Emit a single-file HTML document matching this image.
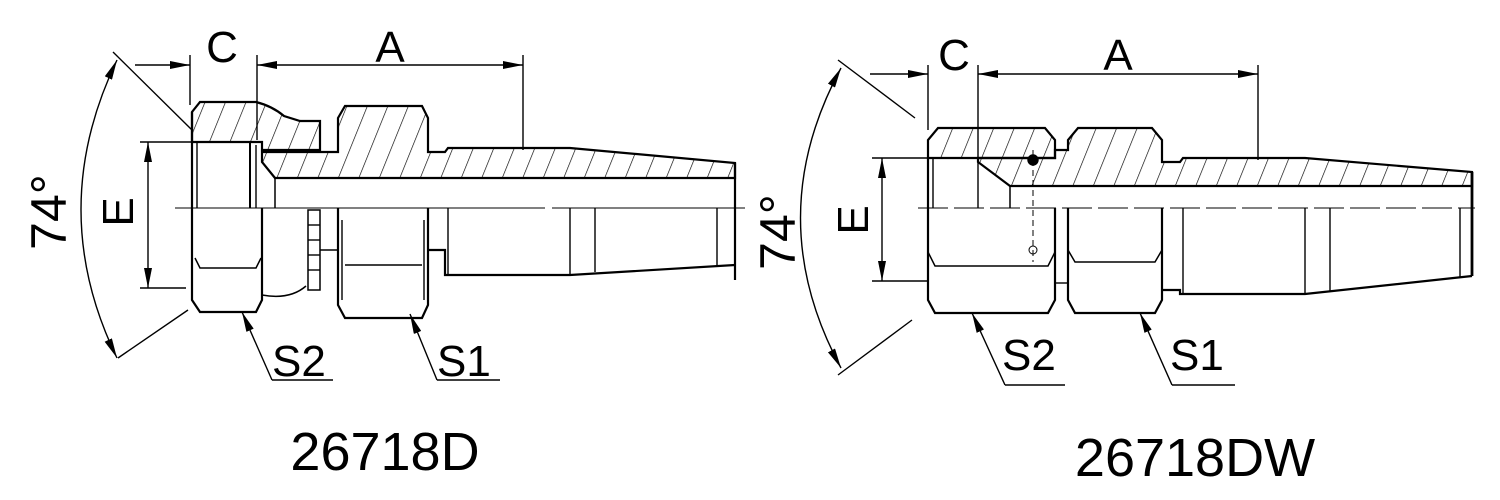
<!DOCTYPE html>
<html><head><meta charset="utf-8"><style>
html,body{margin:0;padding:0;background:#fff;}
svg{display:block;}
text{font-family:"Liberation Sans",sans-serif;fill:#000;}
</style></head><body>
<svg width="1500" height="500" viewBox="0 0 1500 500" xmlns="http://www.w3.org/2000/svg">
<defs>
<pattern id="h" width="19" height="19" patternUnits="userSpaceOnUse" patternTransform="rotate(22)">
<line x1="0" y1="0" x2="0" y2="19" stroke="#000" stroke-width="1.3"/>
</pattern>
<marker id="ar" viewBox="0 0 20 8" refX="20" refY="4" markerWidth="20" markerHeight="8" markerUnits="userSpaceOnUse" orient="auto-start-reverse">
<path d="M0,0 L20,4 L0,8 Z" fill="#000"/>
</marker>
</defs>
<g fill="none" stroke="#000" stroke-width="1.4">
<!-- ================= LEFT ================= -->
<line x1="175" y1="208" x2="545" y2="208" stroke-width="1"/>
<line x1="552" y1="208" x2="745" y2="208" stroke-width="1"/>
<line x1="190" y1="55" x2="190" y2="105"/>
<line x1="257" y1="55" x2="257" y2="140"/>
<line x1="523" y1="55" x2="523" y2="150"/>
<line x1="135" y1="65" x2="190" y2="65" marker-end="url(#ar)"/>
<line x1="257" y1="65" x2="523" y2="65" marker-start="url(#ar)" marker-end="url(#ar)"/>
<line x1="113" y1="52" x2="192" y2="130"/>
<line x1="118" y1="358" x2="188" y2="310"/>
<path d="M117,60 Q45,210 117,358" marker-start="url(#ar)" marker-end="url(#ar)"/>
<line x1="140" y1="142" x2="192" y2="142"/>
<line x1="140" y1="288" x2="186" y2="288"/>
<line x1="148" y1="142" x2="148" y2="288" marker-start="url(#ar)" marker-end="url(#ar)"/>
<path d="M192,142 V112 L200,102 H256 Q272,106 284,116 L300,121 H320 V150 H262 V142 Z" fill="url(#h)" stroke-width="2.2"/>
<path d="M192,208 V112" stroke-width="2.2"/>
<line x1="196" y1="142" x2="258" y2="142"/>
<line x1="197" y1="142" x2="197" y2="208"/>
<line x1="250" y1="142" x2="250" y2="208" stroke-width="2"/>
<line x1="256" y1="145" x2="256" y2="208"/>
<path d="M275,178 L262,162 V152 H338 V118 L345,106 H422 L428,118 V152 H445 L448,148 H570 L735,163 V178 Z" fill="url(#h)" stroke-width="2.2"/>
<line x1="275" y1="178" x2="275" y2="208" stroke-width="1.5"/>
<line x1="735" y1="163" x2="735" y2="280" stroke-width="2.2"/>
<path d="M192,208 V300 L200,312 H256 L262,300 V208" stroke-width="2.2"/>
<path d="M195,258 L200,268 H256 L261,258" stroke-width="1.5"/>
<path d="M262,295 Q290,300 306,286" stroke-width="1.5"/>
<rect x="308" y="210" width="12" height="80" stroke-width="1.5"/>
<line x1="308" y1="225" x2="320" y2="225"/><line x1="308" y1="240" x2="320" y2="240"/>
<line x1="308" y1="255" x2="320" y2="255"/><line x1="308" y1="270" x2="320" y2="270"/>
<line x1="320" y1="250" x2="338" y2="250"/>
<path d="M338,208 V305 L345,318 H422 L428,305 V208" stroke-width="2.2"/>
<path d="M342,220 V300 M424,220 V300"/>
<line x1="345" y1="265" x2="422" y2="265" stroke-width="1.5"/>
<path d="M428,250 H445 V275 H570 L735,265" stroke-width="2.2"/>
<line x1="448" y1="208" x2="448" y2="275"/>
<line x1="570" y1="208" x2="570" y2="275"/>
<line x1="595" y1="208" x2="595" y2="272"/>
<line x1="717" y1="208" x2="717" y2="267"/>
<line x1="272" y1="380" x2="242" y2="312" marker-end="url(#ar)"/>
<line x1="272" y1="380" x2="333" y2="380"/>
<line x1="437" y1="380" x2="410" y2="314" marker-end="url(#ar)"/>
<line x1="437" y1="380" x2="500" y2="380"/>

<!-- ================= RIGHT ================= -->
<line x1="918" y1="208" x2="1475" y2="208" stroke-width="1" stroke-dasharray="30,6"/>
<line x1="928" y1="65" x2="928" y2="130"/>
<line x1="978" y1="65" x2="978" y2="208"/>
<line x1="1258" y1="65" x2="1258" y2="160"/>
<line x1="870" y1="74" x2="928" y2="74" marker-end="url(#ar)"/>
<line x1="978" y1="74" x2="1258" y2="74" marker-start="url(#ar)" marker-end="url(#ar)"/>
<line x1="838" y1="60" x2="915" y2="118"/>
<line x1="838" y1="375" x2="912" y2="320"/>
<path d="M841,68 Q760,218 841,368" marker-start="url(#ar)" marker-end="url(#ar)"/>
<line x1="872" y1="158" x2="928" y2="158"/>
<line x1="872" y1="281" x2="928" y2="281"/>
<line x1="882" y1="158" x2="882" y2="281" marker-start="url(#ar)" marker-end="url(#ar)"/>
<path d="M928,158 V140 L938,128 H1045 L1055,140 V158 Z" fill="url(#h)" stroke-width="2.2"/>
<path d="M928,158 V208" stroke-width="2.2"/>
<line x1="933" y1="158" x2="933" y2="208"/>
<path d="M1010,186 L978,162 V158 H1055 V150 H1068 V140 L1078,128 H1152 L1162,140 V162 H1180 L1183,158 H1305 L1472,172 V186 Z" fill="url(#h)" stroke-width="2.2"/>
<line x1="1010" y1="186" x2="1010" y2="208" stroke-width="1.5"/>
<line x1="1472" y1="172" x2="1472" y2="276" stroke-width="2.8"/>
<circle cx="1033" cy="160" r="5" fill="#000"/>
<circle cx="1033" cy="250" r="4" stroke-width="1"/>
<line x1="1033" y1="150" x2="1033" y2="262" stroke-width="1" stroke-dasharray="6,4"/>
<path d="M928,208 V300 L935,313 H1048 L1055,300 V208" stroke-width="2.2"/>
<path d="M928,252 L935,266 H1048 L1055,252" stroke-width="1.5"/>
<line x1="1055" y1="283" x2="1068" y2="283"/>
<path d="M1068,208 V300 L1075,313 H1155 L1162,300 V208" stroke-width="2.2"/>
<path d="M1068,250 L1075,262 H1155 L1162,250" stroke-width="1.5"/>
<path d="M1162,290 H1180 V294 H1305 L1472,276" stroke-width="2.2"/>
<line x1="1183" y1="208" x2="1183" y2="294"/>
<line x1="1305" y1="208" x2="1305" y2="294"/>
<line x1="1330" y1="208" x2="1330" y2="291"/>
<line x1="1460" y1="208" x2="1460" y2="277"/>
<line x1="1005" y1="385" x2="972" y2="313" marker-end="url(#ar)"/>
<line x1="1005" y1="385" x2="1065" y2="385"/>
<line x1="1172" y1="385" x2="1140" y2="313" marker-end="url(#ar)"/>
<line x1="1172" y1="385" x2="1235" y2="385"/>
</g>
<g font-size="44">
<text x="222" y="62" text-anchor="middle">C</text>
<text x="390" y="62" text-anchor="middle">A</text>
<text x="954" y="70" text-anchor="middle">C</text>
<text x="1118" y="70" text-anchor="middle">A</text>
<text transform="translate(133,212) rotate(-90)" text-anchor="middle">E</text>
<text transform="translate(868,220) rotate(-90)" text-anchor="middle">E</text>
<text transform="translate(66,212) rotate(-90)" text-anchor="middle" font-size="50">74°</text>
<text transform="translate(795,232) rotate(-90)" text-anchor="middle" font-size="50">74°</text>
<text x="272" y="376">S2</text>
<text x="437" y="376">S1</text>
<text x="1002" y="370">S2</text>
<text x="1170" y="370">S1</text>
</g>
<text x="385" y="470" font-size="54" text-anchor="middle">26718D</text>
<text x="1195" y="476" font-size="54" text-anchor="middle">26718DW</text>
</svg>
</body></html>
